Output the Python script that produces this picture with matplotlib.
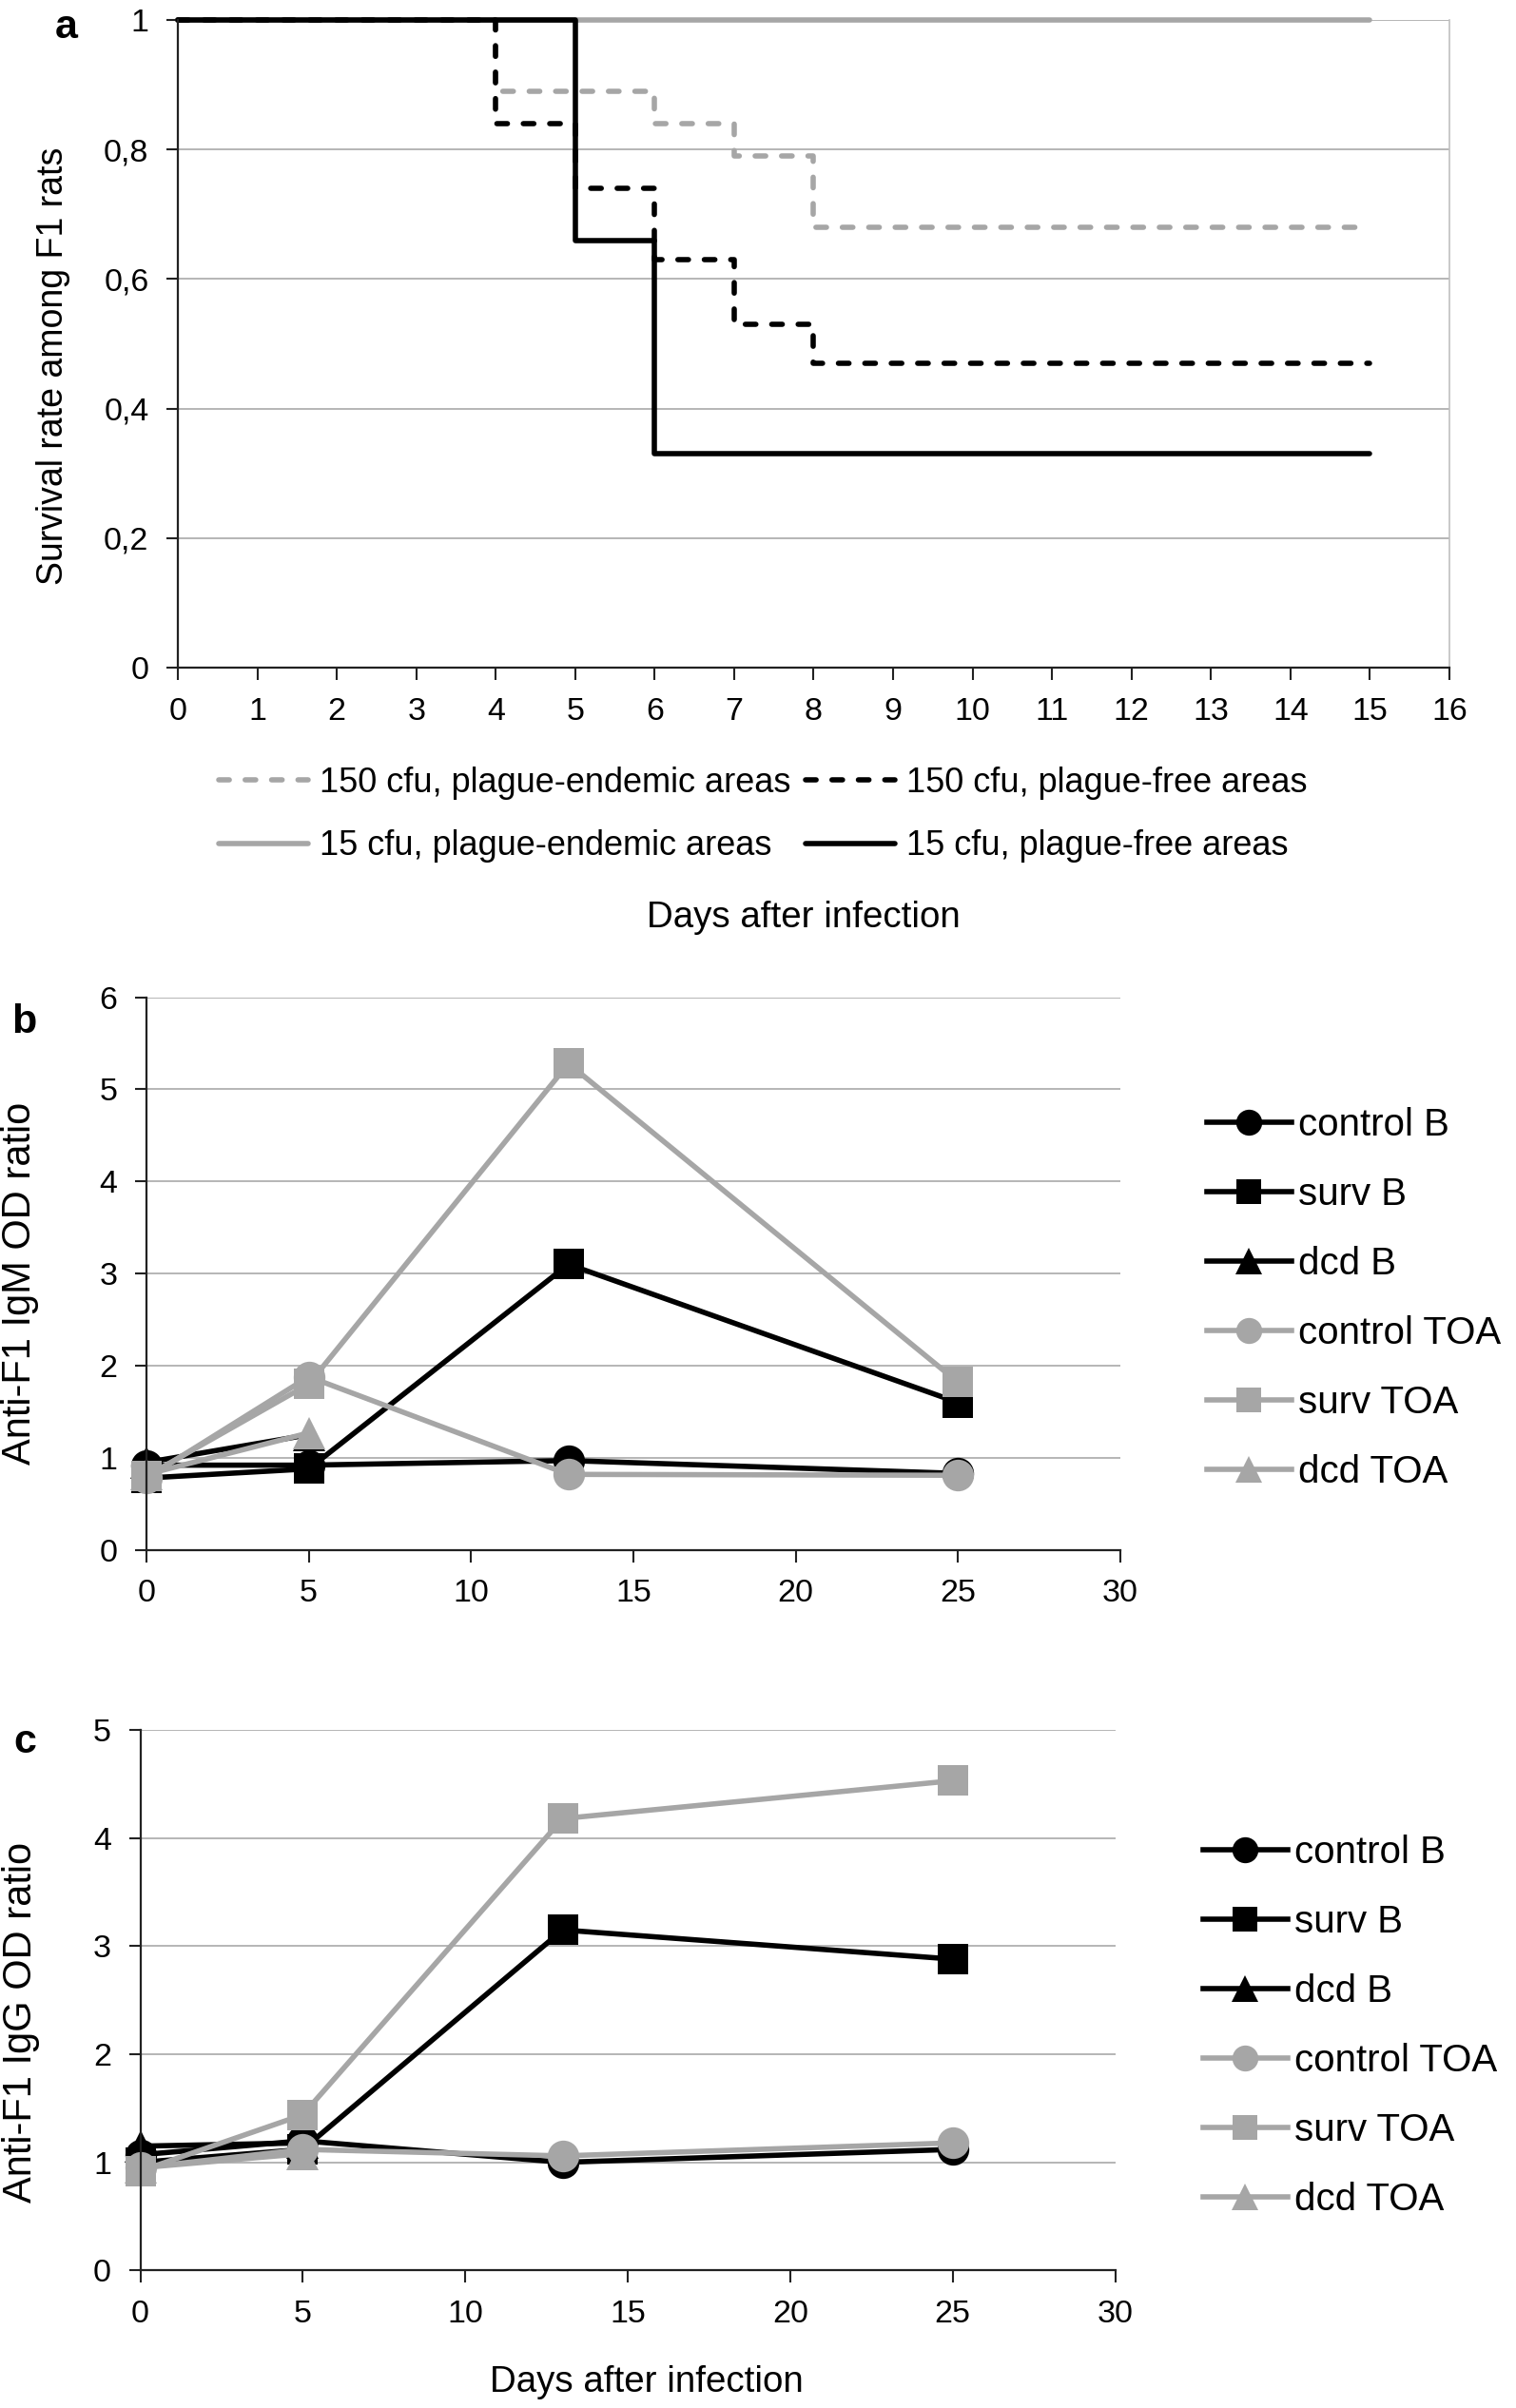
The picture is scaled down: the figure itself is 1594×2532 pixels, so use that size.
import matplotlib
matplotlib.use("Agg")
import matplotlib.pyplot as plt
from matplotlib.ticker import FixedLocator

plt.rcParams['font.family'] = ['Liberation Sans', 'DejaVu Sans']

# ---------------- data ----------------
# Panel a: Kaplan-Meier style survival steps
days_150_endemic = [0, 4, 6, 7, 8, 15]
surv_150_endemic = [1.0, 0.89, 0.84, 0.79, 0.68, 0.68]
days_150_free = [0, 4, 5, 6, 7, 8, 15]
surv_150_free = [1.0, 0.84, 0.74, 0.63, 0.53, 0.47, 0.47]
days_15_endemic = [0, 15]
surv_15_endemic = [1.0, 1.0]
days_15_free = [0, 5, 6, 15]
surv_15_free = [1.0, 0.66, 0.33, 0.33]
a_xticks = list(range(0, 17))
a_yticks = [0, 0.2, 0.4, 0.6, 0.8, 1.0]
a_yticklabels = ['0', '0,2', '0,4', '0,6', '0,8', '1']

# Panel b / c: antibody ratios
days_full = [0, 5, 13, 25]
days_dcd = [0, 5]
series_names = ['control B', 'surv B', 'dcd B', 'control TOA', 'surv TOA', 'dcd TOA']

igm_control_B = [0.92, 0.92, 0.97, 0.83]
igm_surv_B = [0.78, 0.88, 3.10, 1.60]
igm_dcd_B = [0.95, 1.25]
igm_control_TOA = [0.78, 1.88, 0.82, 0.81]
igm_surv_TOA = [0.80, 1.80, 5.28, 1.82]
igm_dcd_TOA = [0.82, 1.27]

igg_control_B = [1.07, 1.20, 1.00, 1.12]
igg_surv_B = [1.00, 1.12, 3.15, 2.88]
igg_dcd_B = [1.15, 1.18]
igg_control_TOA = [0.95, 1.12, 1.06, 1.18]
igg_surv_TOA = [0.92, 1.44, 4.18, 4.53]
igg_dcd_TOA = [0.95, 1.08]

bc_xticks = [0, 5, 10, 15, 20, 25, 30]

# ---------------- style ----------------
GRAY = '#a6a6a6'
BLACK = '#000000'
GRID = '#a9a9a9'
AX = '#222222'
TICK_FS = 24.5

W, H = 1594, 2532
fig = plt.figure(figsize=(W / 100, H / 100), dpi=100)


def axes_px(x0, x1, y0, y1):
    """x0,x1: left/right px; y0: top px; y1: bottom px"""
    return fig.add_axes([x0 / W, 1 - y1 / H, (x1 - x0) / W, (y1 - y0) / H])


def style_axes(ax):
    for s in ['top', 'right']:
        ax.spines[s].set_visible(False)
    for s in ['left', 'bottom']:
        ax.spines[s].set_color(AX)
        ax.spines[s].set_linewidth(1.6)
    ax.tick_params(direction='out', length=9, width=1.5, color=AX,
                   labelsize=TICK_FS, pad=13)
    ax.yaxis.grid(True, color=GRID, linewidth=1.2)
    ax.set_axisbelow(True)


# ---------------- panel a ----------------
axa = axes_px(187, 1524, 21, 702)
style_axes(axa)
axa.spines['right'].set_visible(True)
axa.spines['right'].set_color('#c0c0c0')
axa.spines['right'].set_linewidth(1.2)
axa.set_xlim(0, 16)
axa.set_ylim(0, 1)
axa.xaxis.set_major_locator(FixedLocator(a_xticks))
axa.set_yticks(a_yticks)
axa.set_yticklabels(a_yticklabels)

lw_a = 4.0
dash = (2.0, 3.0)
h1, = axa.step(days_15_endemic, surv_15_endemic, where='post', color=GRAY,
               lw=lw_a, solid_capstyle='round', clip_on=False,
               label='15 cfu, plague-endemic areas')
h2, = axa.step(days_150_endemic, surv_150_endemic, where='post', color=GRAY,
               lw=lw_a, dashes=dash, dash_capstyle='round', clip_on=False,
               label='150 cfu, plague-endemic areas')
h3, = axa.step(days_150_free, surv_150_free, where='post', color=BLACK,
               lw=lw_a, dashes=dash, dash_capstyle='round', clip_on=False,
               label='150 cfu, plague-free areas')
h4, = axa.step(days_15_free, surv_15_free, where='post', color=BLACK,
               lw=lw_a, solid_capstyle='round', clip_on=False,
               label='15 cfu, plague-free areas')

LEG_A_FS = 26
fs_px = LEG_A_FS * 100 / 72
axa.legend([h2, h1, h3, h4],
           [h2.get_label(), h1.get_label(), h3.get_label(), h4.get_label()],
           ncol=2, frameon=False, fontsize=LEG_A_FS,
           loc='upper left',
           bbox_to_anchor=(230 / W, 1 - (823 - 0.48 * fs_px) / H),
           bbox_transform=fig.transFigure,
           borderpad=0, borderaxespad=0, handlelength=2.6,
           handletextpad=0.33, columnspacing=0.45, labelspacing=0.88)

fig.text(845 / W, 1 - 965 / H, 'Days after infection', fontsize=27.7,
         ha='center', va='center')
fig.text(56 / W, 1 - 385 / H, 'Survival rate among F1 rats', fontsize=27,
         rotation=90, ha='center', va='center')
fig.text(58 / W, 1 - 40 / H, 'a', fontsize=31, fontweight='bold',
         ha='left', va='baseline')


# ---------------- panels b, c ----------------
def antibody_panel(box, vals, ymax, ylabel, ylabel_xy, letter_xy, letter,
                   leg_xy):
    ax = axes_px(*box)
    style_axes(ax)
    ax.set_xlim(0, 30)
    ax.set_ylim(0, ymax)
    ax.set_xticks(bc_xticks)
    ax.set_yticks(list(range(0, ymax + 1)))
    specs = [(BLACK, 'o', 24), (BLACK, 's', 23), (BLACK, '^', 25),
             (GRAY, 'o', 24), (GRAY, 's', 23), (GRAY, '^', 25)]
    handles = []
    for name, v, (c, m, ms) in zip(series_names, vals, specs):
        xs = days_full if len(v) == len(days_full) else days_dcd
        h, = ax.plot(xs, v, color=c, marker=m, markersize=ms, lw=4.0,
                     markeredgewidth=0, clip_on=False, label=name,
                     solid_joinstyle='round')
        handles.append(h)
    LFS = 29
    lfs_px = LFS * 100 / 72
    ax.legend(handles, series_names, frameon=False, fontsize=LFS,
              loc='upper left',
              bbox_to_anchor=(leg_xy[0] / W, 1 - (leg_xy[1] - 0.48 * lfs_px) / H),
              bbox_transform=fig.transFigure, borderpad=0, borderaxespad=0,
              handlelength=2.2, handletextpad=0.18, labelspacing=0.87,
              markerscale=0.82)
    fig.text(ylabel_xy[0] / W, 1 - ylabel_xy[1] / H, ylabel, fontsize=30,
             rotation=90, ha='center', va='center')
    fig.text(letter_xy[0] / W, 1 - letter_xy[1] / H, letter, fontsize=31,
             fontweight='bold', ha='left', va='baseline')
    return ax


antibody_panel((154, 1178, 1048.6, 1629.7),
               [igm_control_B, igm_surv_B, igm_dcd_B,
                igm_control_TOA, igm_surv_TOA, igm_dcd_TOA],
               6, 'Anti-F1 IgM OD ratio', (21, 1349), (12, 1086), 'b',
               (1269, 1183))

axc = antibody_panel((147.5, 1172.5, 1819, 2387.4),
                     [igg_control_B, igg_surv_B, igg_dcd_B,
                      igg_control_TOA, igg_surv_TOA, igg_dcd_TOA],
                     5, 'Anti-F1 IgG OD ratio', (22, 2126), (14, 1843), 'c',
                     (1265, 1948))

fig.text(680 / W, 1 - 2505 / H, 'Days after infection', fontsize=27.7,
         ha='center', va='center')

fig.savefig('out.png', dpi=100)
